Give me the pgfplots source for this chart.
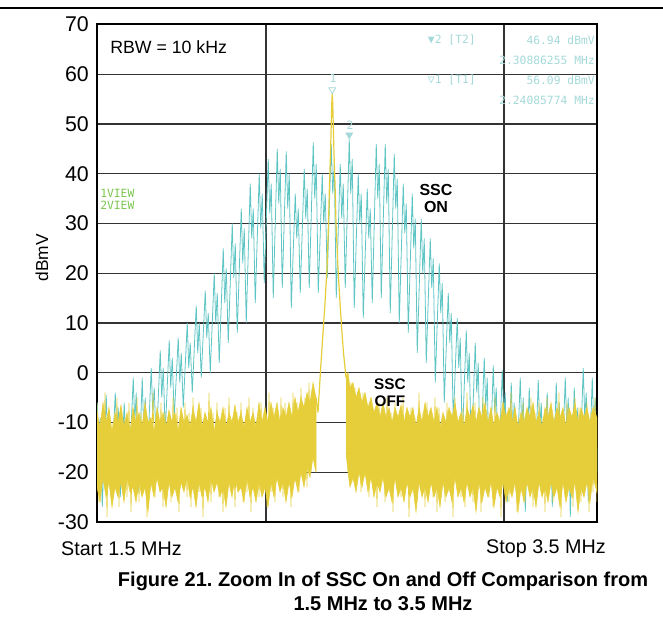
\documentclass[border=0pt]{standalone}
\usepackage{fontspec}
\setmainfont{Liberation Sans}
\newfontfamily\anafont{DejaVu Sans Mono}
\usepackage{pgfplots}
\pgfplotsset{compat=1.18}
\definecolor{sscon}{HTML}{5EC4C4}
\definecolor{sscoff}{HTML}{E6CE3A}
\definecolor{mkcol}{HTML}{A5D9D9}
\definecolor{viewgreen}{HTML}{7CC651}

\begin{document}
\frenchspacing
\begin{tikzpicture}
\path[use as bounding box] (0,0) rectangle (497.25pt,475.5pt);
\draw[line width=1.1pt] (0,469.5pt) -- (497.25pt,469.5pt);
\begin{axis}[
  at={(72.75pt,84pt)}, anchor=south west,
  width=375pt, height=373.125pt, scale only axis,
  xmin=1.3, xmax=3.3, ymin=-30, ymax=70,
  xtick={1.976,2.928}, xticklabels={},
  ytick={-30,-20,...,70},
  yticklabels={-30,-20,-10,0,10,20,30,40,50,60,70},
  major tick length=0pt,
  xmajorgrids, ymajorgrids,
  grid style={line width=1.1pt, black!80},
  axis line style={line width=1.5pt},
  yticklabel style={font=\fontsize{16}{16}\selectfont, inner sep=0pt, xshift=-6pt},
]
% SSC on (spread spectrum comb)
\addplot[sscon, line width=0.6pt] coordinates {
(1.285,-25) (1.301,-6) (1.307,-15) (1.313,-9)
(1.321,-27) (1.337,-4.5) (1.343,-14) (1.349,-8)
(1.357,-22) (1.373,-4) (1.379,-12) (1.385,-7)
(1.393,-25) (1.409,-6) (1.415,-16) (1.421,-9)
(1.429,-20) (1.445,-1) (1.451,-10) (1.457,-4)
(1.465,-24) (1.481,-1) (1.487,-12) (1.493,-5)
(1.501,-18) (1.517,1) (1.523,-8) (1.529,-3)
(1.537,-15) (1.553,4.5) (1.559,-5) (1.565,1)
(1.573,-12) (1.589,6.5) (1.595,-3) (1.601,3)
(1.609,-9) (1.625,7) (1.631,-2) (1.637,4)
(1.645,-7) (1.661,10) (1.667,1) (1.673,6)
(1.681,-4) (1.697,13.5) (1.703,4) (1.709,10)
(1.717,-1) (1.733,16.5) (1.739,7) (1.745,12)
(1.753,0) (1.769,20) (1.775,10) (1.781,16)
(1.789,2) (1.805,25) (1.811,14) (1.817,21)
(1.825,6) (1.841,30) (1.847,19) (1.853,26)
(1.861,8) (1.877,33) (1.883,22) (1.889,29)
(1.897,10) (1.913,38) (1.919,27) (1.925,33)
(1.933,14) (1.949,40) (1.955,29) (1.961,36)
(1.969,18) (1.985,43) (1.991,32) (1.997,38)
(2.005,15) (2.021,45) (2.027,34) (2.033,41)
(2.041,17) (2.057,44.5) (2.063,33) (2.069,40)
(2.077,13) (2.093,36) (2.099,27) (2.105,33)
(2.113,16) (2.129,41) (2.135,31) (2.141,37)
(2.149,17) (2.165,46.3) (2.171,35) (2.177,42)
(2.185,16) (2.201,40) (2.207,30) (2.213,36)
(2.221,19) (2.237,46) (2.243,36) (2.249,42)
(2.257,15) (2.273,42) (2.279,31) (2.285,38)
(2.293,17) (2.309,46.9) (2.315,36) (2.321,43)
(2.329,13) (2.345,40) (2.351,30) (2.357,36)
(2.365,11) (2.381,37) (2.387,27) (2.393,33)
(2.401,14) (2.417,46) (2.423,35) (2.429,42)
(2.437,15) (2.453,46) (2.459,34) (2.465,41)
(2.473,12) (2.489,44) (2.495,33) (2.501,39)
(2.509,10) (2.525,38) (2.531,28) (2.537,34)
(2.545,8) (2.561,36) (2.567,25) (2.573,31)
(2.581,4) (2.597,31) (2.603,20) (2.609,27)
(2.617,2) (2.633,27) (2.639,17) (2.645,23)
(2.653,-2) (2.669,22) (2.675,12) (2.681,18)
(2.689,-6) (2.705,16) (2.711,6) (2.717,12)
(2.725,-10) (2.741,11) (2.747,1) (2.753,7)
(2.761,-14) (2.777,8.5) (2.783,-2) (2.789,4)
(2.797,-17) (2.813,6) (2.819,-4) (2.825,2)
(2.833,-20) (2.849,3) (2.855,-7) (2.861,-1)
(2.869,-24) (2.885,1.5) (2.891,-8) (2.897,-3)
(2.905,-22) (2.921,0.5) (2.927,-9) (2.933,-4)
(2.941,-26) (2.957,-2) (2.963,-12) (2.969,-6)
(2.977,-23) (2.993,-1) (2.999,-11) (3.005,-5)
(3.013,-28) (3.029,-3) (3.035,-13) (3.041,-7)
(3.049,-25) (3.065,-1.5) (3.071,-11) (3.077,-6)
(3.085,-22) (3.101,-4) (3.107,-14) (3.113,-8)
(3.121,-27) (3.137,-2) (3.143,-12) (3.149,-6)
(3.157,-24) (3.173,-1) (3.179,-11) (3.185,-5)
(3.193,-29) (3.209,-3) (3.215,-13) (3.221,-7)
(3.229,-23) (3.245,1) (3.251,-9) (3.257,-4)
(3.265,-26) (3.281,-1) (3.287,-11) (3.293,-5)
(3.301,-20)
};
% SSC off: noise floor left of the carrier
\addplot[sscoff, fill=sscoff, line width=0.4pt] coordinates {
(1.300,-8) (1.312,-11) (1.324,-6) (1.336,-10) (1.348,-7) (1.360,-12) (1.372,-8) (1.384,-10)
(1.396,-6.5) (1.408,-11) (1.420,-8) (1.432,-12) (1.444,-7) (1.456,-10) (1.468,-8) (1.480,-11)
(1.492,-6) (1.504,-10) (1.516,-9) (1.528,-12) (1.540,-7) (1.552,-10) (1.564,-8) (1.576,-11)
(1.588,-7.5) (1.600,-10) (1.612,-8) (1.624,-12) (1.636,-7) (1.648,-10) (1.660,-8.5) (1.672,-11)
(1.684,-7) (1.696,-10) (1.708,-6) (1.720,-11) (1.732,-8) (1.744,-10) (1.756,-7) (1.768,-12)
(1.780,-8) (1.792,-10) (1.804,-7) (1.816,-11) (1.828,-8) (1.840,-10) (1.852,-6.5) (1.864,-10)
(1.876,-8) (1.888,-11) (1.900,-7) (1.912,-10) (1.924,-8) (1.936,-11) (1.948,-6) (1.960,-10)
(1.972,-7) (1.984,-10) (1.996,-6) (2.008,-9) (2.020,-6) (2.032,-10) (2.044,-7) (2.056,-9)
(2.068,-6) (2.080,-9) (2.092,-5) (2.104,-8) (2.116,-5) (2.128,-7) (2.140,-4) (2.152,-6)
(2.164,-2) (2.176,-5)
(2.176,-20) (2.164,-17) (2.152,-21) (2.140,-19) (2.128,-23) (2.116,-20) (2.104,-24) (2.092,-21)
(2.080,-25) (2.068,-22) (2.056,-26) (2.044,-22) (2.032,-24) (2.020,-21) (2.008,-25) (1.996,-22)
(1.984,-27) (1.972,-23) (1.960,-25) (1.948,-22) (1.936,-26) (1.924,-23) (1.912,-25) (1.900,-21)
(1.888,-26) (1.876,-23) (1.864,-24) (1.852,-21) (1.840,-25) (1.828,-22) (1.816,-27) (1.804,-23)
(1.792,-25) (1.780,-22) (1.768,-24) (1.756,-21) (1.744,-26) (1.732,-23) (1.720,-25) (1.708,-22)
(1.696,-27) (1.684,-23) (1.672,-25) (1.660,-21) (1.648,-24) (1.636,-22) (1.624,-26) (1.612,-23)
(1.600,-25) (1.588,-22) (1.576,-27) (1.564,-23) (1.552,-24) (1.540,-21) (1.528,-25) (1.516,-22)
(1.504,-28) (1.492,-23) (1.480,-25) (1.468,-22) (1.456,-26) (1.444,-23) (1.432,-24) (1.420,-21)
(1.408,-26) (1.396,-22) (1.384,-25) (1.372,-23) (1.360,-27) (1.348,-22) (1.336,-25) (1.324,-21)
(1.312,-26) (1.300,-23)
};
% SSC off: noise floor right of the carrier
\addplot[sscoff, fill=sscoff, line width=0.4pt] coordinates {
(2.296,-1) (2.304,0) (2.312,-3) (2.324,-2) (2.336,-5) (2.348,-3) (2.360,-6) (2.372,-4)
(2.384,-7) (2.396,-5) (2.408,-8) (2.420,-6) (2.432,-9) (2.444,-6) (2.456,-9) (2.468,-7)
(2.480,-10) (2.492,-7) (2.504,-9) (2.516,-6.5) (2.528,-10) (2.540,-7) (2.552,-9) (2.564,-7)
(2.576,-11) (2.588,-7) (2.600,-10) (2.612,-6) (2.624,-9) (2.636,-7) (2.648,-10) (2.660,-7)
(2.672,-11) (2.684,-8) (2.696,-10) (2.708,-7) (2.720,-9) (2.732,-6) (2.744,-10) (2.756,-8)
(2.768,-11) (2.780,-7) (2.792,-9) (2.804,-6.5) (2.816,-10) (2.828,-7) (2.840,-9) (2.852,-6)
(2.864,-10) (2.876,-7) (2.888,-11) (2.900,-8) (2.912,-10) (2.924,-6) (2.936,-9) (2.948,-7)
(2.960,-10) (2.972,-7) (2.984,-11) (2.996,-8) (3.008,-10) (3.020,-7) (3.032,-9) (3.044,-6)
(3.056,-10) (3.068,-8) (3.080,-11) (3.092,-7) (3.104,-9) (3.116,-6) (3.128,-10) (3.140,-7)
(3.152,-9) (3.164,-7) (3.176,-11) (3.188,-7) (3.200,-9) (3.212,-6) (3.224,-10) (3.236,-7)
(3.248,-9) (3.260,-7) (3.272,-10) (3.284,-7) (3.300,-9)
(3.300,-24) (3.284,-21) (3.272,-26) (3.260,-22) (3.248,-25) (3.236,-23) (3.224,-28) (3.212,-22)
(3.200,-25) (3.188,-23) (3.176,-26) (3.164,-22) (3.152,-27) (3.140,-23) (3.128,-25) (3.116,-22)
(3.104,-26) (3.092,-23) (3.080,-25) (3.068,-22) (3.056,-27) (3.044,-23) (3.032,-25) (3.020,-22)
(3.008,-26) (2.996,-23) (2.984,-28) (2.972,-22) (2.960,-25) (2.948,-23) (2.936,-26) (2.924,-22)
(2.912,-25) (2.900,-23) (2.888,-27) (2.876,-22) (2.864,-25) (2.852,-23) (2.840,-26) (2.828,-22)
(2.816,-28) (2.804,-23) (2.792,-25) (2.780,-22) (2.768,-26) (2.756,-23) (2.744,-25) (2.732,-21)
(2.720,-26) (2.708,-23) (2.696,-25) (2.684,-22) (2.672,-27) (2.660,-23) (2.648,-25) (2.636,-22)
(2.624,-26) (2.612,-23) (2.600,-25) (2.588,-22) (2.576,-28) (2.564,-23) (2.552,-25) (2.540,-22)
(2.528,-26) (2.516,-23) (2.504,-25) (2.492,-21) (2.480,-26) (2.468,-23) (2.456,-25) (2.444,-21)
(2.432,-24) (2.420,-22) (2.408,-25) (2.396,-21) (2.384,-24) (2.372,-20) (2.360,-23) (2.348,-20)
(2.336,-24) (2.324,-21) (2.312,-23) (2.304,-20) (2.296,-16)
};
% SSC off: noise spikes
\addplot[sscoff, line width=0.5pt] coordinates {
(1.300,-6)(1.308,-26)(1.316,-9)(1.324,-22)(1.332,-4)(1.340,-29)(1.348,-8)(1.356,-24)(1.364,-10)(1.372,-21)
(1.380,-5)(1.388,-27)(1.396,-7)(1.404,-23)(1.412,-9)(1.420,-25)(1.428,-6)(1.436,-28)(1.444,-11)(1.452,-22)
(1.460,-5)(1.468,-26)(1.476,-8)(1.484,-24)(1.492,-7)(1.500,-29)(1.508,-10)(1.516,-23)(1.524,-4)(1.532,-25)
(1.540,-9)(1.548,-21)(1.556,-6)(1.564,-27)(1.572,-8)(1.580,-24)(1.588,-10)(1.596,-26)(1.604,-5)(1.612,-22)
(1.620,-7)(1.628,-28)(1.636,-9)(1.644,-23)(1.652,-6)(1.660,-25)(1.668,-8)(1.676,-27)(1.684,-5)(1.692,-22)
(1.700,-10)(1.708,-24)(1.716,-7)(1.724,-29)(1.732,-9)(1.740,-23)(1.748,-4)(1.756,-26)(1.764,-8)(1.772,-21)
(1.780,-6)(1.788,-25)(1.796,-10)(1.804,-28)(1.812,-7)(1.820,-23)(1.828,-5)(1.836,-24)(1.844,-9)(1.852,-27)
(1.860,-8)(1.868,-22)(1.876,-6)(1.884,-26)(1.892,-10)(1.900,-24)(1.908,-5)(1.916,-28)(1.924,-7)(1.932,-23)
(1.940,-9)(1.948,-25)(1.956,-6)(1.964,-21)(1.972,-8)(1.980,-27)(1.988,-4)(1.996,-24)(2.004,-7)(2.012,-26)
(2.020,-9)(2.028,-22)(2.036,-5)(2.044,-25)(2.052,-6)(2.060,-23)(2.068,-8)(2.076,-27)(2.084,-4)(2.092,-22)
(2.100,-6)(2.108,-24)(2.116,-3)(2.124,-21)(2.132,-5)(2.140,-23)(2.148,-2)(2.156,-20)(2.164,-4)(2.172,-19)
};
\addplot[sscoff, line width=0.5pt] coordinates {
(2.300,0)(2.308,-18)(2.316,-2)(2.324,-22)(2.332,-3)(2.340,-20)(2.348,-5)(2.356,-24)(2.364,-4)(2.372,-21)
(2.380,-7)(2.388,-25)(2.396,-5)(2.404,-23)(2.412,-8)(2.420,-27)(2.428,-6)(2.436,-22)(2.444,-9)(2.452,-26)
(2.460,-5)(2.468,-24)(2.476,-8)(2.484,-28)(2.492,-6)(2.500,-23)(2.508,-10)(2.516,-25)(2.524,-5)(2.532,-22)
(2.540,-8)(2.548,-29)(2.556,-7)(2.564,-24)(2.572,-9)(2.580,-26)(2.588,-4)(2.596,-23)(2.604,-8)(2.612,-27)
(2.620,-6)(2.628,-22)(2.636,-10)(2.644,-25)(2.652,-5)(2.660,-28)(2.668,-7)(2.676,-23)(2.684,-9)(2.692,-26)
(2.700,-6)(2.708,-24)(2.716,-8)(2.724,-29)(2.732,-5)(2.740,-22)(2.748,-10)(2.756,-25)(2.764,-7)(2.772,-27)
(2.780,-4)(2.788,-23)(2.796,-9)(2.804,-26)(2.812,-6)(2.820,-24)(2.828,-8)(2.836,-28)(2.844,-5)(2.852,-22)
(2.860,-10)(2.868,-25)(2.876,-7)(2.884,-27)(2.892,-5)(2.900,-23)(2.908,-9)(2.916,-29)(2.924,-6)(2.932,-24)
(2.940,-8)(2.948,-26)(2.956,-4)(2.964,-22)(2.972,-7)(2.980,-28)(2.988,-9)(2.996,-24)(3.004,-6)(3.012,-26)
(3.020,-10)(3.028,-23)(3.036,-5)(3.044,-27)(3.052,-8)(3.060,-25)(3.068,-6)(3.076,-22)(3.084,-9)(3.092,-28)
(3.100,-5)(3.108,-24)(3.116,-7)(3.124,-26)(3.132,-10)(3.140,-23)(3.148,-4)(3.156,-29)(3.164,-8)(3.172,-25)
(3.180,-6)(3.188,-22)(3.196,-9)(3.204,-27)(3.212,-5)(3.220,-24)(3.228,-7)(3.236,-26)(3.244,-10)(3.252,-23)
(3.260,-6)(3.268,-28)(3.276,-8)(3.284,-24)(3.292,-5)(3.300,-26)
};
% SSC off: carrier
\addplot[sscoff, line width=0.9pt] coordinates {
(2.176,-5) (2.184,-8) (2.190,-3) (2.196,2) (2.204,8) (2.212,14) (2.220,21) (2.226,30)
(2.230,38) (2.234,44) (2.237,50) (2.239,54) (2.241,56.09) (2.243,54) (2.245,50) (2.248,44)
(2.252,38) (2.256,30) (2.264,21) (2.272,14) (2.280,8) (2.286,4) (2.292,1) (2.296,-1)
};
% markers
\addplot[only marks, mark=triangle, mark size=3pt, mkcol,
  mark options={rotate=180, line width=0.6pt}] coordinates {(2.241,56.9)};
\addplot[only marks, mark=triangle*, mark size=3pt, mkcol,
  mark options={rotate=180}] coordinates {(2.309,47.8)};
\end{axis}
\begin{scope}[x=0.75pt,y=-0.75pt,shift={(0pt,475.5pt)}]
\node[rotate=90, font=\fontsize{13}{13}\selectfont] at (42,258) {dBmV};
\node[anchor=west, inner sep=0pt, font=\fontsize{13.3}{16}\selectfont] at (110,47) {RBW = 10 kHz};
\node[anchor=east, inner sep=0pt, font=\fontsize{14.8}{16}\selectfont] at (182,549) {Start 1.5 MHz};
\node[anchor=east, inner sep=0pt, font=\fontsize{14.8}{16}\selectfont] at (606,549) {Stop 3.5 MHz};
\node[font=\bfseries\fontsize{15}{18}\selectfont] at (383,581) {Figure 21. Zoom In of SSC On and Off Comparison from};
\node[font=\bfseries\fontsize{15}{18}\selectfont] at (383,604) {1.5 MHz to 3.5 MHz};
\node[font=\bfseries\fontsize{12}{14}\selectfont] at (436,190) {SSC};
\node[font=\bfseries\fontsize{12}{14}\selectfont] at (436,207) {ON};
\node[font=\bfseries\fontsize{11.5}{14}\selectfont] at (390,384) {SSC};
\node[font=\bfseries\fontsize{11.5}{14}\selectfont] at (390,401) {OFF};
\begin{scope}[mkcol, font=\anafont\fontsize{8.5}{10}\selectfont, inner sep=0pt]
\node[anchor=east] at (476,40) {▼2 [T2]};
\node[anchor=east] at (595,40) {46.94 dBmV};
\node[anchor=east] at (595,60) {2.30886255 MHz};
\node[anchor=east] at (476,80) {▽1 [T1]};
\node[anchor=east] at (595,80) {56.09 dBmV};
\node[anchor=east] at (595,100) {2.24085774 MHz};
\node at (333,78) {1};
\node at (350,125) {2};
\end{scope}
\begin{scope}[viewgreen, font=\anafont\fontsize{8.5}{10}\selectfont, inner sep=0pt]
\node[anchor=west] at (100,193) {1VIEW};
\node[anchor=west] at (100,205) {2VIEW};
\end{scope}
\end{scope}
\end{tikzpicture}
\end{document}
